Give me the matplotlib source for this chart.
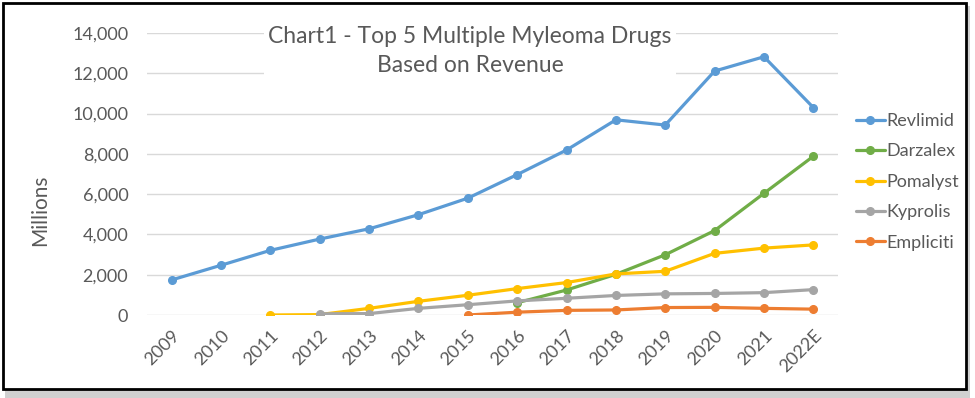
import matplotlib
matplotlib.use("Agg")
import matplotlib.pyplot as plt
import numpy as np
from matplotlib.patches import Rectangle
from matplotlib.ticker import FuncFormatter

years = ["2009", "2010", "2011", "2012", "2013", "2014", "2015", "2016",
         "2017", "2018", "2019", "2020", "2021", "2022E"]
nan = np.nan
revlimid = [1740, 2470, 3210, 3770, 4280, 4980, 5800, 6970, 8190, 9690, 9430, 12110, 12820, 10300]
darzalex = [nan, nan, nan, nan, nan, nan, nan, 610, 1240, 2020, 2990, 4190, 6040, 7880]
pomalyst = [nan, nan, 0, 20, 330, 680, 980, 1310, 1610, 2040, 2170, 3060, 3320, 3480]
kyprolis = [nan, nan, nan, 60, 70, 330, 510, 700, 830, 970, 1050, 1070, 1110, 1260]
empliciti = [nan, nan, nan, nan, nan, nan, 0, 140, 230, 250, 370, 380, 330, 290]

series = [("Revlimid", revlimid, "#5B9BD5"),
          ("Darzalex", darzalex, "#70AD47"),
          ("Pomalyst", pomalyst, "#FFC000"),
          ("Kyprolis", kyprolis, "#A5A5A5"),
          ("Empliciti", empliciti, "#ED7D31")]

plt.rcParams['font.family'] = ['Lato', 'DejaVu Sans']
TXT = "#595959"
W, H = 975, 398
fig = plt.figure(figsize=(W / 100, H / 100), dpi=100)

# outer frame with shadow
fig.patches.append(Rectangle((5 / W, 0), 965 / W, 1 - 6 / H, transform=fig.transFigure,
                             facecolor="#D0D0D0", edgecolor="none", zorder=0))
fig.patches.append(Rectangle((3 / W, 1 - 389 / H), 963 / W, 386 / H, transform=fig.transFigure,
                             facecolor="white", edgecolor="black", linewidth=2, zorder=1))

ax = fig.add_axes([147 / W, 1 - 315 / H, 691 / W, 282 / H])
ax.set_zorder(2)
ax.set_facecolor("none")
x = np.arange(len(years))
for i, (name, vals, col) in enumerate(series):
    ax.plot(x, vals, color=col, lw=2.3, marker="o", ms=5.5, label=name, zorder=3 + i,
            solid_capstyle="round")

ax.set_xlim(-0.5, len(years) - 0.5)
ax.set_ylim(0, 14000)
ax.set_yticks(np.arange(0, 14001, 2000))
ax.yaxis.set_major_formatter(FuncFormatter(lambda v, p: f"{int(v):,}"))
ax.set_xticks(x)
ax.set_xticklabels(years, rotation=45, ha="right", rotation_mode="anchor")
ax.tick_params(axis="both", length=0, labelsize=13, colors=TXT)
ax.tick_params(axis="y", pad=13.5)
ax.tick_params(axis="x", pad=9)
ax.grid(axis="y", color="#D9D9D9", lw=1, zorder=0)
ax.set_axisbelow(True)
for s in ax.spines.values():
    s.set_visible(False)

# title with white background covering gridlines
fig.text(470 / W, 1 - 51 / H, "Chart1 - Top 5 Multiple Myleoma Drugs\nBased on Revenue",
         ha="center", va="center", fontsize=16.5, color=TXT, linespacing=1.45,
         bbox=dict(facecolor="white", edgecolor="none", pad=3), zorder=10)

fig.text(40 / W, 1 - 210 / H, "Millions", rotation=90, ha="center", va="center",
         fontsize=15, color=TXT)

leg = ax.legend(loc="upper left", bbox_to_anchor=(847 / W, 1 - 104 / H),
                bbox_transform=fig.transFigure, frameon=False, fontsize=13,
                handlelength=1.6, handletextpad=0.1, labelspacing=0.8, borderpad=0)
for t in leg.get_texts():
    t.set_color(TXT)

fig.savefig("out.png", dpi=100)
